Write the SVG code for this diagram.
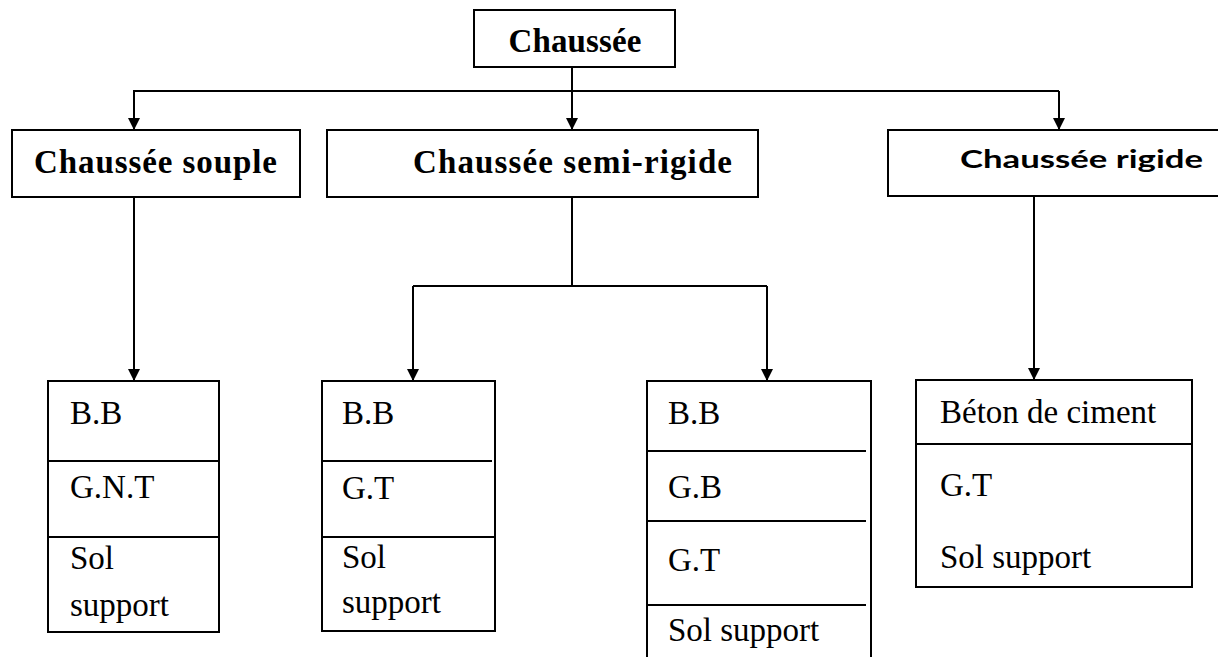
<svg xmlns="http://www.w3.org/2000/svg" width="1218" height="657" viewBox="0 0 1218 657">
<style>
.box{fill:#fff;stroke:#000;stroke-width:2}
.ln{fill:none;stroke:#000;stroke-width:2}
.hb{font-family:"Liberation Serif","Times New Roman",serif;font-weight:bold;font-size:33px;fill:#000}
.hs{font-family:Lato,"Open Sans",sans-serif;font-weight:bold;font-size:25px;fill:#000}
.t{font-family:"Liberation Serif","Times New Roman",serif;font-size:33px;fill:#000}
</style>
<defs>
<marker id="arr" markerUnits="userSpaceOnUse" markerWidth="12" markerHeight="12" refX="12" refY="6" orient="auto">
<path d="M0,0 L12,6 L0,12 z" fill="#000"/>
</marker>
</defs>
<rect width="1218" height="657" fill="#fff"/>
<g id="connectors">
<path class="ln" d="M572,67 V91"/>
<path class="ln" d="M133,91 H1059"/>
<path class="ln" d="M134,91 V130" marker-end="url(#arr)"/>
<path class="ln" d="M572,91 V130" marker-end="url(#arr)"/>
<path class="ln" d="M1059,91 V130" marker-end="url(#arr)"/>
<path class="ln" d="M134,197 V381" marker-end="url(#arr)"/>
<path class="ln" d="M572,197 V286"/>
<path class="ln" d="M413,286 H767"/>
<path class="ln" d="M413,286 V381" marker-end="url(#arr)"/>
<path class="ln" d="M767,286 V381" marker-end="url(#arr)"/>
<path class="ln" d="M1034,196 V380" marker-end="url(#arr)"/>
</g>
<g id="n-chaussee">
<rect class="box" x="474" y="10" width="201" height="57"/>
<text class="hb" x="575" y="52" text-anchor="middle" textLength="133">Chaussée</text>
</g>
<g id="n-souple">
<rect class="box" x="12" y="130" width="288" height="67"/>
<text class="hb" x="34" y="173" textLength="243">Chaussée souple</text>
</g>
<g id="n-semi">
<rect class="box" x="327" y="130" width="431" height="67"/>
<text class="hb" x="413" y="173" textLength="319">Chaussée semi-rigide</text>
</g>
<g id="n-rigide">
<rect class="box" x="888" y="130" width="332" height="66"/>
<text class="hs" x="960" y="168" textLength="243" lengthAdjust="spacingAndGlyphs">Chaussée rigide</text>
</g>
<g id="n-layers-souple">
<rect class="box" x="48" y="381" width="171" height="251"/>
<path class="ln" d="M48,461 H219 M48,537 H219"/>
<text class="t" x="70" y="424">B.B</text>
<text class="t" x="70" y="498">G.N.T</text>
<text class="t" x="70" y="569">Sol</text>
<text class="t" x="70" y="616">support</text>
</g>
<g id="n-layers-semi-a">
<rect class="box" x="322" y="381" width="173" height="250"/>
<path class="ln" d="M322,461 H492 M322,537 H495"/>
<text class="t" x="342" y="424">B.B</text>
<text class="t" x="342" y="499">G.T</text>
<text class="t" x="342" y="568">Sol</text>
<text class="t" x="342" y="613">support</text>
</g>
<g id="n-layers-semi-b">
<path class="ln" d="M647,660 V381 H871 V660"/>
<path class="ln" d="M647,451 H866 M647,521 H866 M647,605 H866"/>
<text class="t" x="668" y="424">B.B</text>
<text class="t" x="668" y="498">G.B</text>
<text class="t" x="668" y="571">G.T</text>
<text class="t" x="668" y="641">Sol support</text>
</g>
<g id="n-layers-rigide">
<rect class="box" x="916" y="380" width="276" height="207"/>
<path class="ln" d="M916,444 H1192"/>
<text class="t" x="940" y="423">Béton de ciment</text>
<text class="t" x="940" y="496">G.T</text>
<text class="t" x="940" y="568">Sol support</text>
</g>
</svg>
